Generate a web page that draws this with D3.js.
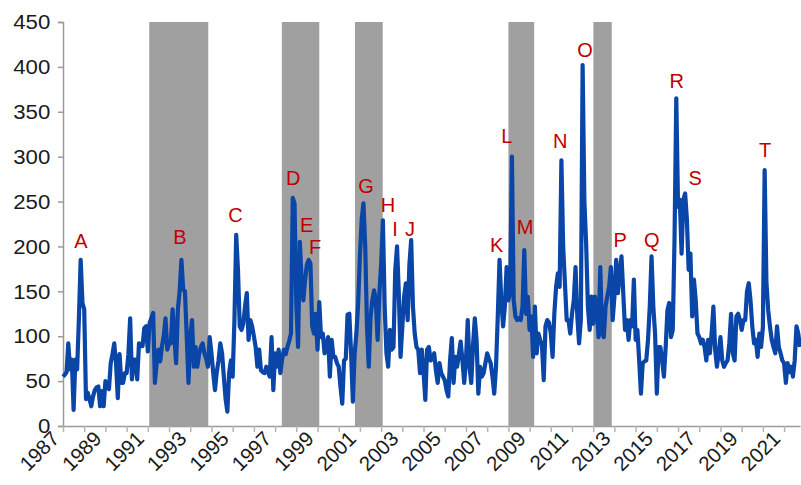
<!DOCTYPE html>
<html>
<head>
<meta charset="utf-8">
<script src="https://cdn.jsdelivr.net/npm/d3@7"></script>
<style>
  body { margin: 0; background: #fff; }
  svg { display: block; }
</style>
</head>
<body>
<svg id="chart" width="801" height="485"></svg>
<script>
const startYear = 1987;

// monthly values, one row per year (Jan 1987 .. Oct 2021)
const values = [
  55, 57, 60, 92, 63, 74, 18, 74, 63, 120, 185, 137,
  130, 30, 37, 30, 22, 33, 40, 43, 44, 22, 39, 22,
  50, 45, 41, 70, 80, 92, 70, 31, 80, 48, 48, 59,
  59, 80, 120, 52, 74, 74, 52, 92, 89, 89, 109, 111,
  83, 115, 120, 126, 48, 70, 85, 72, 89, 100, 120, 85,
  92, 92, 130, 100, 70, 130, 150, 185, 152, 150, 100, 48,
  100, 118, 66, 88, 66, 80, 88, 92, 81, 75, 66, 99,
  81, 59, 40, 60, 73, 92, 81, 55, 30, 16, 59, 73,
  55, 118, 213, 174, 111, 107, 114, 133, 148, 96, 118, 111,
  100, 88, 66, 85, 62, 60, 59, 66, 60, 55, 99, 40,
  81, 66, 85, 59, 75, 85, 80, 88, 95, 103, 254, 248,
  137, 88, 205, 163, 140, 163, 180, 185, 181, 111, 103, 125,
  85, 138, 99, 103, 81, 90, 99, 55, 96, 77, 77, 70,
  66, 44, 25, 73, 75, 124, 125, 81, 27, 80, 103, 137,
  189, 230, 248, 200, 111, 66, 120, 140, 151, 140, 96, 148,
  180, 229, 133, 81, 66, 107, 85, 88, 174, 200, 148, 77,
  111, 144, 159, 118, 180, 207, 133, 103, 88, 85, 59, 85,
  60, 29, 85, 88, 73, 75, 81, 62, 48, 70, 59, 55,
  51, 40, 33, 73, 98, 48, 77, 66, 80, 94, 73, 48,
  73, 118, 66, 48, 90, 120, 96, 36, 66, 55, 59, 70,
  81, 75, 70, 55, 36, 66, 122, 185, 140, 111, 133, 177,
  140, 148, 300, 140, 122, 118, 120, 118, 133, 196, 125, 144,
  107, 122, 77, 133, 81, 103, 96, 90, 51, 111, 118, 115,
  103, 77, 125, 155, 170, 155, 296, 200, 159, 118, 118, 103,
  125, 140, 177, 122, 92, 118, 402, 250, 203, 133, 107, 144,
  114, 144, 133, 99, 177, 103, 99, 133, 145, 155, 177, 118,
  144, 185, 148, 170, 189, 148, 107, 118, 96, 118, 111, 163,
  96, 107, 73, 36, 70, 72, 73, 96, 133, 189, 133, 103,
  36, 88, 88, 73, 55, 88, 129, 137, 99, 107, 207, 365,
  244, 252, 192, 252, 259, 230, 174, 192, 122, 163, 140, 103,
  99, 92, 96, 88, 73, 96, 81, 103, 133, 85, 66, 81,
  99, 73, 66, 70, 73, 92, 125, 81, 73, 122, 125, 118,
  107, 118, 118, 150, 159, 140, 111, 92, 96, 77, 103, 88,
  110, 285, 160, 129, 111, 96, 88, 81, 111, 88, 81, 73,
  70, 48, 70, 60, 66, 55, 73, 111, 103, 88
];

// shaded periods, in months since Jan 1987
const bandStarts = [48.8, 123.8, 165.2, 252, 300.1];
const bandEnds = [82.2, 145, 180.9, 266.6, 310.5];

// event letters, placed at (month, value)
const peakLabels = ["A", "B", "C", "D", "E", "F", "G", "H", "I", "J",
  "K", "L", "M", "N", "O", "P", "Q", "R", "S", "T"];
const peakMonths = [10.2, 66.2, 97.6, 130.3, 137.9, 142.6, 171.5, 183.9, 187.9, 196.4,
  245.4, 251.1, 261.5, 281.3, 295.4, 315.2, 333.2, 347.3, 357.7, 397.3];
const peakValues = [204, 209, 233, 274, 222, 198, 265, 244, 218, 218,
  200, 321, 220, 315, 417, 205, 205, 382, 274, 306];

const yTicks = [0, 50, 100, 150, 200, 250, 300, 350, 400, 450];
const yearTicks = d3.range(0, values.length, 12);

const svg = d3.select("#chart");
const font = "Arial, 'Liberation Sans', sans-serif";

const x = d3.scaleLinear().domain([0, values.length - 1]).range([63, 800]);
const y = d3.scaleLinear().domain([0, 450]).range([426, 22]);

// shaded bands
svg.append("g")
  .selectAll("rect")
  .data(bandStarts)
  .join("rect")
  .attr("x", (d) => x(d))
  .attr("width", (d, i) => x(bandEnds[i]) - x(d))
  .attr("y", y(450))
  .attr("height", y(0) - y(450))
  .attr("fill", "#a0a0a0");

// y axis
const yAxis = svg.append("g")
  .attr("transform", `translate(${x(0)},0)`)
  .call(d3.axisLeft(y).tickValues(yTicks).tickSize(5).tickPadding(10));
yAxis.select(".domain").attr("stroke", "#9a9a9a").attr("stroke-width", 1.5);
yAxis.selectAll(".tick line").attr("stroke", "#9a9a9a").attr("stroke-width", 1.5);
yAxis.selectAll(".tick text")
  .attr("font-family", font)
  .attr("font-size", 21)
  .attr("x", -12)
  .attr("fill", "#1a1a1a")
  .attr("transform", "scale(1.06,1)");

// x axis
const xAxis = svg.append("g")
  .attr("transform", `translate(0,${y(0)})`)
  .call(d3.axisBottom(x)
    .tickValues(yearTicks)
    .tickSize(6)
    .tickSizeOuter(0)
    .tickFormat((d) => (d / 12) % 2 === 0 ? startYear + d / 12 : ""));
xAxis.select(".domain").attr("stroke", "#9a9a9a").attr("stroke-width", 1.5);
xAxis.selectAll(".tick line").attr("stroke", "#b5b5b5").attr("stroke-width", 1.5);
xAxis.selectAll(".tick text")
  .attr("font-family", font)
  .attr("font-size", 20.5)
  .attr("fill", "#1a1a1a")
  .attr("text-anchor", "end")
  .attr("dy", null)
  .attr("y", 0)
  .attr("transform", "translate(-3,14) rotate(-45)");

// series
const line = d3.line()
  .x((d, i) => x(i))
  .y((d) => y(d));

svg.append("path")
  .datum(values)
  .attr("d", line)
  .attr("fill", "none")
  .attr("stroke", "#0a46a8")
  .attr("stroke-width", 4.2)
  .attr("stroke-linejoin", "round");

// event letters
svg.append("g")
  .selectAll("text")
  .data(peakLabels)
  .join("text")
  .text((d) => d)
  .attr("x", (d, i) => x(peakMonths[i]))
  .attr("y", (d, i) => y(peakValues[i]))
  .attr("font-family", font)
  .attr("font-size", 20)
  .attr("text-anchor", "middle")
  .attr("dominant-baseline", "middle")
  .attr("fill", "#c00000");
</script>
</body>
</html>
